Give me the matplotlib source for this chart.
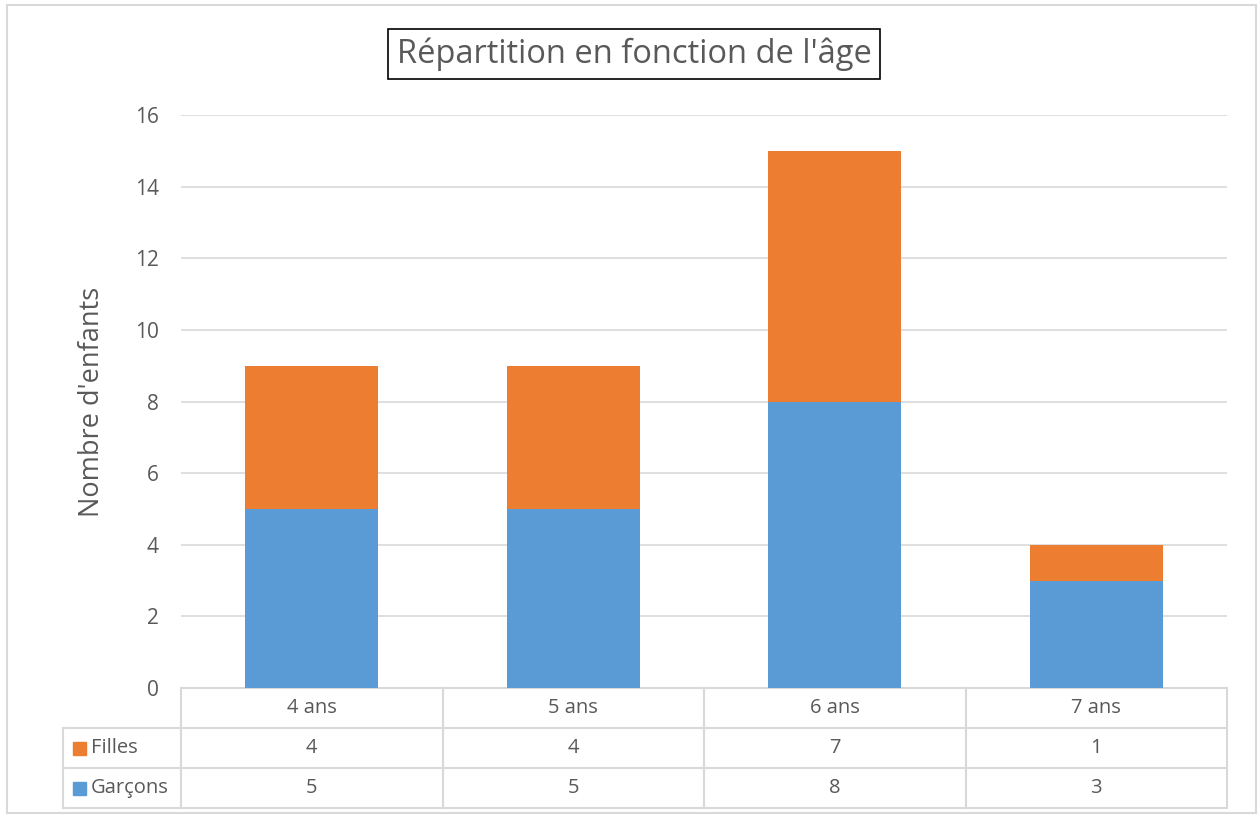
import matplotlib.pyplot as plt
from matplotlib.patches import Rectangle
from matplotlib.transforms import blended_transform_factory

plt.rcParams['font.family'] = ['Open Sans', 'DejaVu Sans']

# data
ages = ["4 ans", "5 ans", "6 ans", "7 ans"]
garcons = [5, 5, 8, 3]
filles = [4, 4, 7, 1]
series_names = ["Filles", "Garçons"]
y_ticks = [0, 2, 4, 6, 8, 10, 12, 14, 16]

BLUE = "#5B9BD5"
ORANGE = "#ED7D31"
GRID = "#D9D9D9"
TXT = "#595959"

W, H = 1260, 816
fig = plt.figure(figsize=(W / 100, H / 100), dpi=100)
ax = fig.add_axes([181 / W, 1 - 688 / H, (1227 - 181) / W, (688 - 115) / H])

x = list(range(len(ages)))
ax.bar(x, garcons, width=0.51, color=BLUE, zorder=3)
ax.bar(x, filles, width=0.51, bottom=garcons, color=ORANGE, zorder=3)

ax.set_xlim(-0.5, len(ages) - 0.5)
ax.set_ylim(0, 16)
ax.set_yticks(y_ticks)
ax.set_yticklabels([str(v) for v in y_ticks], fontsize=15, color=TXT)
ax.set_xticks([])
ax.tick_params(axis="y", length=0, pad=16)
for s in ax.spines.values():
    s.set_visible(False)
ax.yaxis.grid(True, color=GRID, lw=1.2, zorder=0)
ax.set_axisbelow(True)

ax.set_ylabel("Nombre d'enfants", fontsize=19.5, color=TXT, labelpad=21)

# data table below the plot
row_h = 40 / (688 - 115)
tr = blended_transform_factory(ax.transData, ax.transAxes)
left_edge = -0.5 - (181 - 63) / ((1227 - 181) / len(ages))
n = len(ages)
kw = dict(color=GRID, lw=1.5, transform=tr, clip_on=False)
fs = 14.5

for k in range(4):
    y = -k * row_h
    x0 = -0.5 if k == 0 else left_edge
    ax.plot([x0, n - 0.5], [y, y], **kw)
for xv in [i - 0.5 for i in range(n + 1)]:
    ax.plot([xv, xv], [0, -3 * row_h], **kw)
ax.plot([left_edge, left_edge], [-row_h, -3 * row_h], **kw)

for i, age in enumerate(ages):
    ax.text(i, -0.5 * row_h, age, transform=tr, ha="center", va="center",
            fontsize=fs, color=TXT)
    ax.text(i, -1.5 * row_h, str(filles[i]), transform=tr, ha="center",
            va="center", fontsize=fs, color=TXT)
    ax.text(i, -2.5 * row_h, str(garcons[i]), transform=tr, ha="center",
            va="center", fontsize=fs, color=TXT)

for k, (name, col) in enumerate(zip(series_names, [ORANGE, BLUE])):
    yc = -(1.5 + k) * row_h
    fig.patches.append(Rectangle((73 / W, 1 - (688 + 40 * (1.5 + k) + 7) / H),
                                 13 / W, 13 / H, transform=fig.transFigure,
                                 color=col))
    ax.text(left_edge + 0.108, yc, name, transform=tr, ha="left", va="center",
            fontsize=fs, color=TXT)

# title in a box
fig.text(634 / W, 1 - 54 / H, "Répartition en fonction de l'âge", ha="center",
         va="center", fontsize=23.5, color=TXT,
         bbox=dict(boxstyle="square,pad=0.25", fc="white", ec="black", lw=1.2))

# chart area border
fig.patches.append(Rectangle((7 / W, 3 / H), 1249 / W, 808 / H,
                             transform=fig.transFigure, fill=False,
                             ec=GRID, lw=1.5))

fig.savefig("out.png", dpi=100)
